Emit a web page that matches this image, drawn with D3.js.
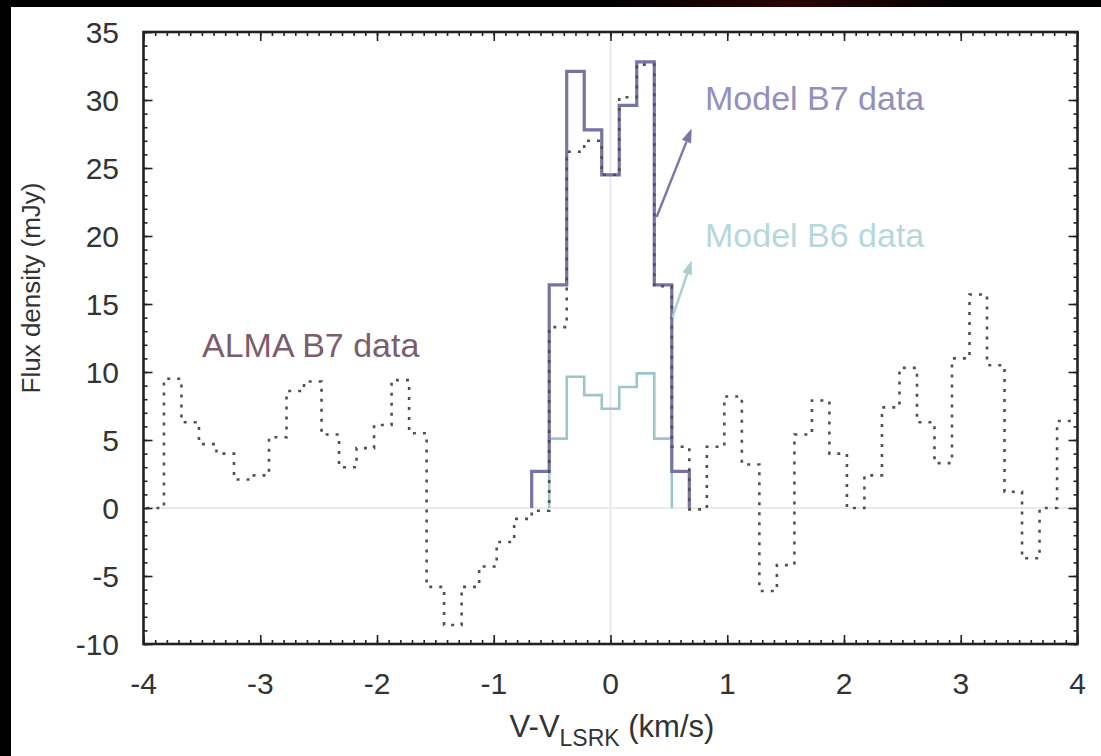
<!DOCTYPE html>
<html>
<head>
<meta charset="utf-8">
<script src="https://cdn.jsdelivr.net/npm/d3@7/dist/d3.min.js"></script>
<style>
  html, body { margin: 0; padding: 0; background: #fff; }
  svg { display: block; font-family: "Liberation Sans", Arial, sans-serif; }
</style>
</head>
<body>
<svg id="chart" width="1101" height="756"></svg>
<script>
// Channel velocities (km/s), centre of each 0.15 km/s channel
const velocity = [-3.9, -3.75, -3.6, -3.45, -3.3, -3.15, -3.0, -2.85, -2.7, -2.55,
  -2.4, -2.25, -2.1, -1.95, -1.8, -1.65, -1.5, -1.35, -1.2, -1.05,
  -0.9, -0.75, -0.6, -0.45, -0.3, -0.15, 0.0, 0.15, 0.3, 0.45,
  0.6, 0.75, 0.9, 1.05, 1.2, 1.35, 1.5, 1.65, 1.8, 1.95,
  2.1, 2.25, 2.4, 2.55, 2.7, 2.85, 3.0, 3.15, 3.3, 3.45,
  3.6, 3.75, 3.9];

// Observed ALMA band 7 spectrum (mJy)
const almaB7 = [0.0, 9.5, 6.3, 4.7, 4.0, 2.1, 2.4, 5.2, 8.6, 9.3,
  5.4, 3.0, 4.4, 6.1, 9.4, 5.5, -5.8, -8.6, -5.8, -4.3,
  -2.5, -0.8, -0.2, 13.3, 26.2, 27.0, 24.5, 30.2, 32.6, 16.3,
  4.5, -0.1, 4.5, 8.2, 3.2, -6.1, -4.2, 5.4, 7.9, 4.0,
  0.0, 2.4, 7.4, 10.3, 6.3, 3.3, 11.0, 15.7, 10.5, 1.2,
  -3.7, 0.0, 6.4];

// Model spectra (mJy)
const modelB7Velocity = [-0.6, -0.45, -0.3, -0.15, 0.0, 0.15, 0.3, 0.45, 0.6];
const modelB7 = [2.7, 16.4, 32.1, 27.8, 24.5, 29.6, 32.8, 16.4, 2.7];
const modelB6Velocity = [-0.45, -0.3, -0.15, 0.0, 0.15, 0.3, 0.45];
const modelB6 = [5.1, 9.65, 8.3, 7.3, 8.9, 9.9, 5.1];

// Axis ticks
const xTickValues = [-4, -3, -2, -1, 0, 1, 2, 3, 4];
const xTickLabels = ["-4", "-3", "-2", "-1", "0", "1", "2", "3", "4"];
const yTickValues = [-10, -5, 0, 5, 10, 15, 20, 25, 30, 35];
const yTickLabels = ["-10", "-5", "0", "5", "10", "15", "20", "25", "30", "35"];

const svg = d3.select("#chart");
const W = 1101, H = 756;
const plot = { left: 143.5, right: 1077.5, top: 32, bottom: 644 };

const x = d3.scaleLinear().domain([-4, 4]).range([plot.left, plot.right]);
const y = d3.scaleLinear().domain([-10, 35]).range([plot.bottom, plot.top]);

// page background and dark border strips
svg.append("rect").attr("width", W).attr("height", H).attr("fill", "#fff");
const defs = svg.append("defs");
const grad = defs.append("linearGradient").attr("id", "topStrip");
grad.append("stop").attr("offset", "0%").attr("stop-color", "#000");
grad.append("stop").attr("offset", "55%").attr("stop-color", "#000");
grad.append("stop").attr("offset", "72%").attr("stop-color", "#2a0606");
grad.append("stop").attr("offset", "88%").attr("stop-color", "#000");
svg.append("rect").attr("x", 0).attr("y", 0).attr("width", W).attr("height", 7).attr("fill", "url(#topStrip)");
svg.append("rect").attr("x", 0).attr("y", 0).attr("width", 11).attr("height", H).attr("fill", "#000");

defs.append("clipPath").attr("id", "plotClip")
  .append("rect")
  .attr("x", plot.left).attr("y", plot.top)
  .attr("width", plot.right - plot.left).attr("height", plot.bottom - plot.top);

// zero lines
svg.append("line")
  .attr("x1", x(0)).attr("x2", x(0)).attr("y1", plot.top).attr("y2", plot.bottom)
  .attr("stroke", "#e8e9f0").attr("stroke-width", 2);
svg.append("line")
  .attr("x1", plot.left).attr("x2", plot.right).attr("y1", y(0)).attr("y2", y(0))
  .attr("stroke", "#eceaea").attr("stroke-width", 2);

// Histogram-step outline: each channel is a flat segment spanning its width
function stepPoints(vs, fs, dropStart, dropEnd) {
  const pts = [];
  const n = vs.length;
  const half = i => (i < n - 1 ? vs[i + 1] - vs[i] : vs[i] - vs[i - 1]) / 2;
  const halfL = i => (i > 0 ? vs[i] - vs[i - 1] : vs[i + 1] - vs[i]) / 2;
  if (dropStart) pts.push([vs[0] - halfL(0), 0]);
  for (let i = 0; i < n; i++) {
    pts.push([vs[i] - halfL(i), fs[i]]);
    pts.push([vs[i] + half(i), fs[i]]);
  }
  if (dropEnd) pts.push([vs[n - 1] + half(n - 1), 0]);
  return pts;
}
const line = d3.line().x(d => x(d[0])).y(d => y(d[1]));

const marks = svg.append("g").attr("clip-path", "url(#plotClip)");

marks.append("path")
  .attr("d", line(stepPoints(modelB6Velocity, modelB6, true, true)))
  .attr("fill", "none").attr("stroke", "#9cc6cc").attr("stroke-width", 2.6)
  .attr("stroke-linejoin", "miter");

marks.append("path")
  .attr("d", line(stepPoints(modelB7Velocity, modelB7, true, true)))
  .attr("fill", "none").attr("stroke", "#7673a6").attr("stroke-width", 3.2)
  .attr("stroke-linejoin", "miter");

marks.append("path")
  .attr("d", line(stepPoints(velocity, almaB7, false, false)))
  .attr("fill", "none").attr("stroke", "#505050").attr("stroke-width", 2.6)
  .attr("stroke-dasharray", "3,7");

// frame ticks (inward), all four sides
function tickAxis(axisGen, transform, values, size) {
  svg.append("g").attr("transform", transform)
    .call(axisGen.tickValues(values).tickSize(size).tickFormat(""))
    .call(g => g.select(".domain").remove())
    .call(g => g.selectAll(".tick line").attr("stroke", "#222").attr("stroke-width", 1.6));
}
const xMinor = d3.range(-40, 41).map(i => i / 10);
const yMinor = d3.range(-10, 36);
tickAxis(d3.axisBottom(x), `translate(0,${plot.bottom})`, xMinor, -4);
tickAxis(d3.axisBottom(x), `translate(0,${plot.bottom})`, xTickValues, -9);
tickAxis(d3.axisTop(x), `translate(0,${plot.top})`, xMinor, -4);
tickAxis(d3.axisTop(x), `translate(0,${plot.top})`, xTickValues, -9);
tickAxis(d3.axisLeft(y), `translate(${plot.left},0)`, yMinor, -4);
tickAxis(d3.axisLeft(y), `translate(${plot.left},0)`, yTickValues, -9);
tickAxis(d3.axisRight(y), `translate(${plot.right},0)`, yMinor, -4);
tickAxis(d3.axisRight(y), `translate(${plot.right},0)`, yTickValues, -9);

// frame
svg.append("rect")
  .attr("x", plot.left).attr("y", plot.top)
  .attr("width", plot.right - plot.left).attr("height", plot.bottom - plot.top)
  .attr("fill", "none").attr("stroke", "#222").attr("stroke-width", 2.6);

// tick labels
svg.append("g").selectAll("text").data(xTickValues).join("text")
  .attr("x", d => x(d)).attr("y", 694)
  .attr("text-anchor", "middle")
  .attr("font-size", 30).attr("fill", "#333")
  .text((d, i) => xTickLabels[i]);
svg.append("g").selectAll("text").data(yTickValues).join("text")
  .attr("x", 119).attr("y", d => y(d) + 11)
  .attr("text-anchor", "end")
  .attr("font-size", 30).attr("fill", "#333")
  .text((d, i) => yTickLabels[i]);

// axis titles
svg.append("text")
  .attr("transform", "translate(40,288) rotate(-90)")
  .attr("text-anchor", "middle")
  .attr("font-size", 26).attr("fill", "#333")
  .text("Flux density (mJy)");
const xt = svg.append("text")
  .attr("x", 612).attr("y", 737)
  .attr("text-anchor", "middle")
  .attr("font-size", 31).attr("fill", "#333");
xt.append("tspan").text("V-V");
xt.append("tspan").attr("dy", 9).attr("font-size", 23).text("LSRK");
xt.append("tspan").attr("dy", -9).text(" (km/s)");

// series annotations
svg.append("text").attr("x", 202).attr("y", 357)
  .attr("font-size", 34).attr("fill", "#7d5d6c").text("ALMA B7 data");
svg.append("text").attr("x", 705).attr("y", 110)
  .attr("font-size", 34).attr("fill", "#948fc0").text("Model B7 data");
svg.append("text").attr("x", 705).attr("y", 247)
  .attr("font-size", 34).attr("fill", "#b6d7dc").text("Model B6 data");

function arrow(from, to, color) {
  const x1 = x(from[0]), y1 = y(from[1]), x2 = x(to[0]), y2 = y(to[1]);
  const ang = Math.atan2(y2 - y1, x2 - x1);
  const len = 14, wid = 5;
  const bx = x2 - len * Math.cos(ang), by = y2 - len * Math.sin(ang);
  svg.append("line").attr("x1", x1).attr("y1", y1).attr("x2", bx).attr("y2", by)
    .attr("stroke", color).attr("stroke-width", 2.4);
  svg.append("path")
    .attr("d", `M${x2},${y2}L${bx + wid * Math.sin(ang)},${by - wid * Math.cos(ang)}L${bx - wid * Math.sin(ang)},${by + wid * Math.cos(ang)}Z`)
    .attr("fill", color);
}
arrow([0.395, 21.4], [0.695, 27.9], "#7a76a8");
arrow([0.53, 14.0], [0.695, 18.2], "#a9cdd2");
</script>
</body>
</html>
